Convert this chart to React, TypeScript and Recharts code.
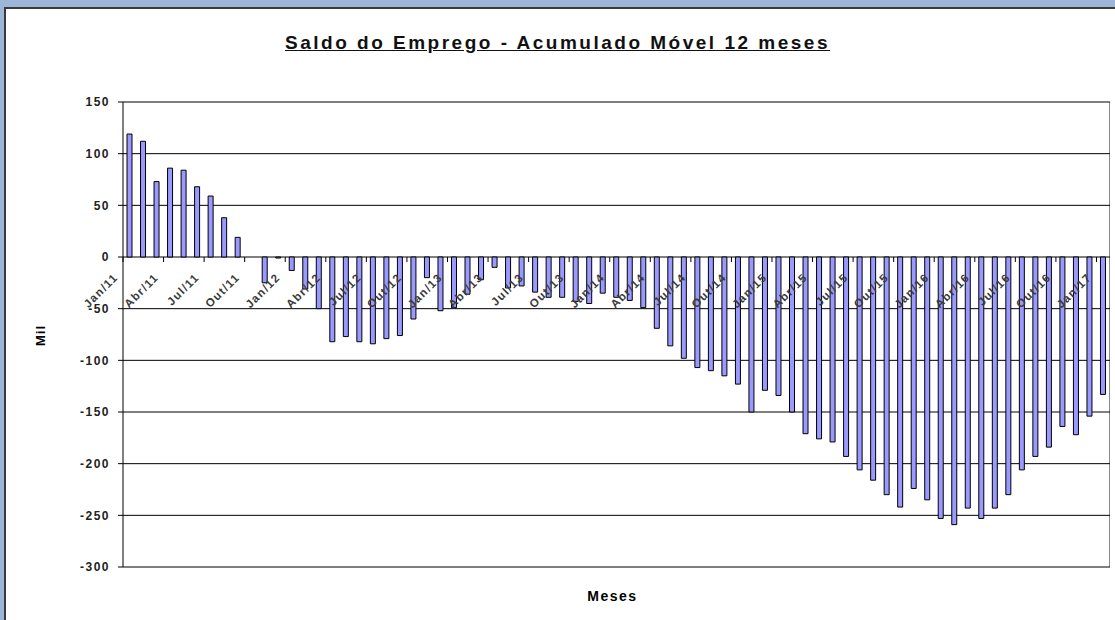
import { BarChart, Bar, XAxis, YAxis, CartesianGrid } from "recharts";

// meses de Jan/11 a Jan/17
const nomesMes = ["Jan", "Fev", "Mar", "Abr", "Mai", "Jun", "Jul", "Ago", "Set", "Out", "Nov", "Dez"];
const anos = ["11", "12", "13", "14", "15", "16", "17"];

// saldo acumulado em 12 meses (mil)
const saldo = [
  119, 112, 73, 86, 84, 68, 59, 38, 19, 0, -25, -1,
  -13, -31, -50, -82, -77, -82, -84, -79, -76, -60, -20, -52,
  -49, -36, -22, -10, -30, -28, -34, -39, -39, -43, -45, -35,
  -39, -42, -49, -69, -86, -98, -107, -110, -115, -123, -150, -129,
  -134, -150, -171, -176, -179, -193, -206, -216, -230, -242, -224, -235,
  -253, -259, -243, -253, -243, -230, -206, -193, -184, -164, -172, -154,
  -133,
];

const yTicks = [-300, -250, -200, -150, -100, -50, 0, 50, 100, 150];

const meses = saldo.map((_, i) => `${nomesMes[i % 12]}/${anos[Math.floor(i / 12)]}`);
const data = meses.map((mes, i) => ({ mes, saldo: saldo[i] }));

const W = 1115;
const H = 620;
const X_H = 1;
const M = { top: 102, right: 5, bottom: 53 - X_H, left: 63 };
const Y_W = 60;
const PLOT_W = W - M.left - Y_W - M.right;
const PLOT_H = H - M.top - M.bottom - X_H;
const Y_MIN = yTicks[0];
const Y_MAX = yTicks[yTicks.length - 1];
const ZERO_Y = M.top + (PLOT_H * Y_MAX) / (Y_MAX - Y_MIN);
const STEP = PLOT_W / data.length;

const fonte = "'Liberation Sans', Arial, sans-serif";

const TickMes = (props: any) => {
  const { x, payload } = props;
  return (
    <g>
      <line x1={x - STEP / 2} x2={x - STEP / 2} y1={ZERO_Y} y2={ZERO_Y + 5} stroke="#000" />
      <text
        transform={`translate(${x - 11},${ZERO_Y + 21}) rotate(-45)`}
        textAnchor="end"
        fontSize={11.5}
        fontWeight="bold"
        letterSpacing={1.3}
        fill="#3a3a3a"
        fontFamily={fonte}
      >
        {payload.value}
      </text>
    </g>
  );
};

const texto = { position: "absolute" as const, fontFamily: fonte, fontWeight: "bold" as const };

export default function App() {
  return (
    <div style={{ position: "absolute", left: 0, top: 0, width: W, height: H, background: "#9BB6D9", overflow: "hidden" }}>
      <div
        style={{
          position: "absolute",
          left: 4,
          top: 7,
          width: W,
          height: H,
          background: "#fff",
          borderLeft: "2px solid #3a3a3a",
          borderTop: "2px solid #3a3a3a",
        }}
      />
      <div
        style={{
          ...texto,
          left: 0,
          width: W,
          top: 32,
          textAlign: "center",
          fontSize: 19,
          letterSpacing: 2.5,
          textDecoration: "underline",
          color: "#111",
        }}
      >
        Saldo do Emprego - Acumulado Móvel 12 meses
      </div>
      <div style={{ ...texto, left: 30, top: 328, transform: "rotate(-90deg)", fontSize: 13, letterSpacing: 1 }}>Mil</div>
      <div
        style={{
          ...texto,
          left: 0,
          width: W,
          boxSizing: "border-box",
          paddingLeft: 110,
          top: 588,
          textAlign: "center",
          fontSize: 14,
          letterSpacing: 1.5,
        }}
      >
        Meses
      </div>
      <div style={{ position: "absolute", left: W - M.right - 1, top: M.top, width: 1, height: PLOT_H, background: "#8a8a8a" }} />
      <div style={{ position: "absolute", left: 0, top: 0 }}>
        <BarChart width={W} height={H} data={data} margin={M} barSize={5}>
          <CartesianGrid vertical={false} stroke="#000" strokeOpacity={1} />
          <Bar dataKey="saldo" fill="#9999FF" stroke="#000" strokeWidth={1} isAnimationActive={false} />
          <XAxis dataKey="mes" height={X_H} axisLine={false} tickLine={false} tick={false} />
          <YAxis
            width={Y_W}
            domain={[Y_MIN, Y_MAX]}
            ticks={yTicks}
            interval={0}
            tickSize={5}
            tickMargin={8}
            axisLine={{ stroke: "#000" }}
            tickLine={{ stroke: "#000" }}
            tick={{ fontSize: 12, fontWeight: "bold", fill: "#222", fontFamily: fonte, letterSpacing: 1.5 }}
          />
        </BarChart>
      </div>
      {/* rótulos dos meses por cima das barras */}
      <div style={{ position: "absolute", left: 0, top: 0, pointerEvents: "none" }}>
        <BarChart width={W} height={H} data={data} margin={M}>
          <XAxis
            dataKey="mes"
            interval={2}
            height={X_H}
            axisLine={false}
            tickLine={false}
            tick={(p: any) => <TickMes {...p} />}
          />
          <YAxis width={Y_W} domain={[Y_MIN, Y_MAX]} ticks={yTicks} axisLine={false} tickLine={false} tick={false} />
        </BarChart>
      </div>
    </div>
  );
}
